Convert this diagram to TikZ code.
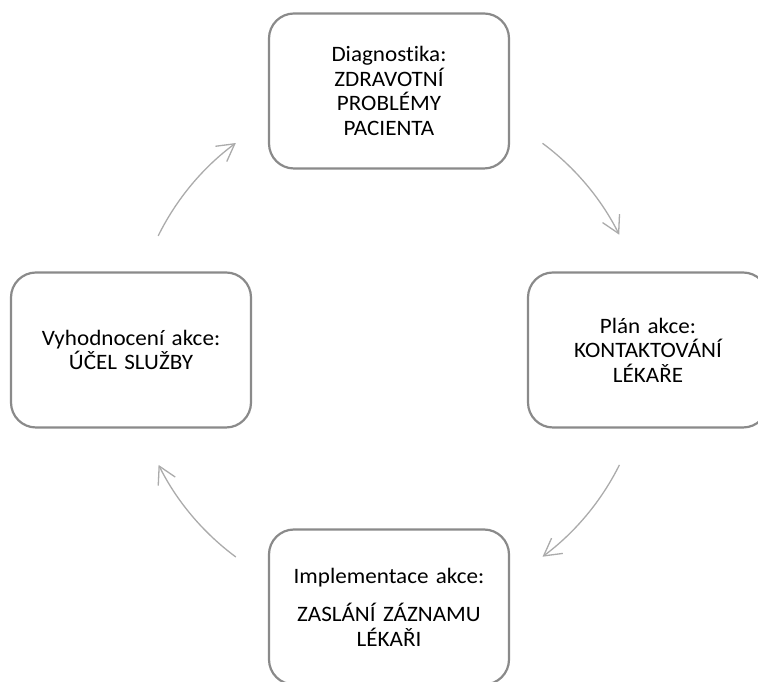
\documentclass[tikz,border=0pt]{standalone}
\usepackage{fontspec}
\setmainfont{Carlito}[FakeStretch=1.05, Ligatures=NoCommon, WordSpace=0.8]
\usetikzlibrary{arrows.meta}

\definecolor{boxline}{HTML}{8A8A8A}
\definecolor{arrowline}{HTML}{ABABAB}

\tikzset{
  stagebox/.style={
    draw=boxline, line width=2.2pt, rounded corners=25pt, fill=white,
    minimum width=240pt, minimum height=155pt,
    align=center, text width=232pt,
    font=\fontsize{22}{24.5}\selectfont
  },
  cyclearrow/.style={
    draw=arrowline, line width=1.3pt,
    -{Straight Barb[length=17pt,width=19pt]}
  }
}

\begin{document}
\begin{tikzpicture}[x=1pt,y=1pt]
  \useasboundingbox (0,0) rectangle (758,682);
  \clip (0,0) rectangle (758,682);

  % centre and radius of the cycle
  \coordinate (O) at (389,332);
  \def\cycr{257.5}

  % the four stages
  \node[stagebox] (diag) at (389,591) {Diagnostika:\\ZDRAVOTNÍ\\PROBLÉMY\\PACIENTA};
  \node[stagebox] (plan) at (648,332) {Plán akce:\\KONTAKTOVÁNÍ\\LÉKAŘE};
  \node[stagebox] (impl) at (389,75) {Implementace akce:\\[14pt]ZASLÁNÍ ZÁZNAMU\\LÉKAŘI};
  \node[stagebox] (eval) at (131,332) {Vyhodnocení akce:\\ÚČEL SLUŽBY};

  % arcs of the cycle, clockwise from one stage to the next
  \coordinate (a1) at ([shift={(153.7:\cycr)}]O);
  \coordinate (a2) at ([shift={(53.4:\cycr)}]O);
  \coordinate (a3) at ([shift={(-26.5:\cycr)}]O);
  \coordinate (a4) at ([shift={(233.5:\cycr)}]O);
  \draw[cyclearrow] (a1) arc[start angle=153.7, end angle=126.5, radius=\cycr];
  \draw[cyclearrow] (a2) arc[start angle=53.4, end angle=26.6, radius=\cycr];
  \draw[cyclearrow] (a3) arc[start angle=-26.5, end angle=-53.4, radius=\cycr];
  \draw[cyclearrow] (a4) arc[start angle=233.5, end angle=206.5, radius=\cycr];
\end{tikzpicture}
\end{document}
